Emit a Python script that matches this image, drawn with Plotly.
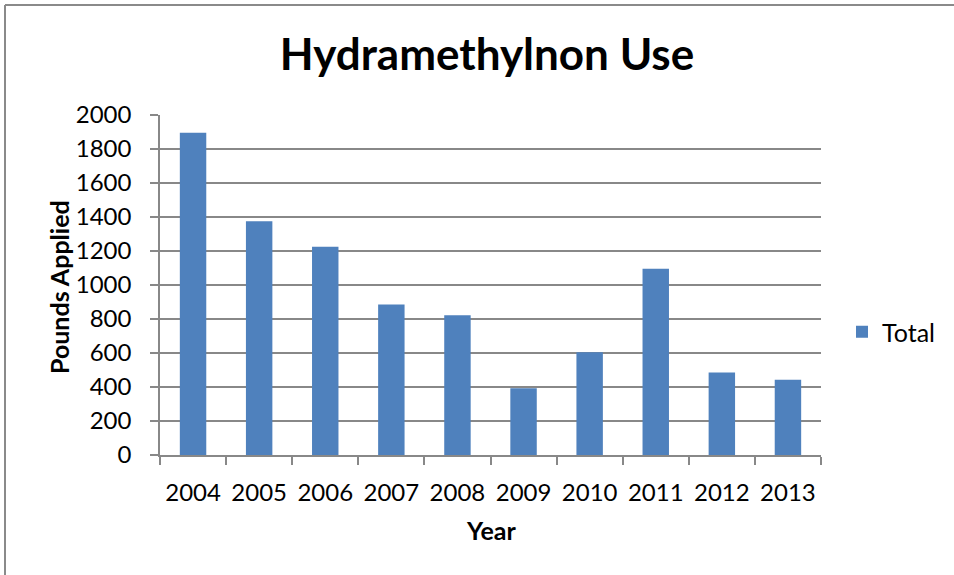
import plotly.graph_objects as go

years = ["2004", "2005", "2006", "2007", "2008", "2009", "2010", "2011", "2012", "2013"]
totals = [1895, 1375, 1225, 885, 822, 392, 605, 1095, 485, 443]
y_ticks = [0, 200, 400, 600, 800, 1000, 1200, 1400, 1600, 1800, 2000]

W, H = 954, 575
L, R, T, B = 160, 821, 115, 455

def px_x(p):
    return (p - L) / (R - L)

def px_y(p):
    return (B - p) / (B - T)

FONT = "Lato"
BAR = "#4F81BD"
GRID = "#888888"
BORDER = "#8a8a8a"

fig = go.Figure()
fig.add_trace(go.Bar(x=years, y=totals, name="Total", marker=dict(color=BAR, line=dict(width=0))))

fig.update_layout(
    width=W, height=H,
    margin=dict(l=L, r=W - R, t=T, b=H - B),
    paper_bgcolor="white", plot_bgcolor="white",
    bargap=0.6,
    font=dict(family=FONT, color="black"),
    title=dict(text="<b>Hydramethylnon Use</b>", x=487 / W, xanchor="center",
               y=1 - 55 / H, yanchor="middle", yref="container",
               font=dict(family=FONT, size=44, color="black")),
    showlegend=True,
    legend=dict(x=px_x(842), xanchor="left", y=px_y(332), yanchor="middle",
                font=dict(family=FONT, size=25, color="black"), bgcolor="rgba(0,0,0,0)"),
    xaxis=dict(type="category", showgrid=False, showline=True, linecolor=GRID, linewidth=1.5,
               ticks="outside", tickson="boundaries", ticklen=8, tickcolor=GRID, tickwidth=1.5,
               tickfont=dict(family=FONT, size=24, color="black"), ticklabelstandoff=15),
    yaxis=dict(range=[0, 2000], tickvals=y_ticks, showgrid=True, gridcolor=GRID, gridwidth=1.5,
               showline=True, linecolor=GRID, linewidth=1.5, zeroline=False,
               ticks="outside", ticklen=8, tickcolor=GRID, tickwidth=1.5,
               tickfont=dict(family=FONT, size=24, color="black"), ticklabelstandoff=14),
    annotations=[
        dict(text="<b>Pounds Applied</b>", xref="paper", yref="paper", x=px_x(59), y=px_y(287),
             xanchor="center", yanchor="middle", textangle=-90, showarrow=False,
             font=dict(family=FONT, size=25, color="black")),
        dict(text="<b>Year</b>", xref="paper", yref="paper", x=px_x(491), y=px_y(530),
             xanchor="center", yanchor="middle", showarrow=False,
             font=dict(family=FONT, size=25, color="black")),
    ],
    shapes=[
        dict(type="line", xref="paper", yref="paper", x0=px_x(5), y0=px_y(5), x1=px_x(1100), y1=px_y(5),
             line=dict(color=BORDER, width=2), layer="below"),
        dict(type="line", xref="paper", yref="paper", x0=px_x(5), y0=px_y(5), x1=px_x(5), y1=px_y(700),
             line=dict(color=BORDER, width=2), layer="below"),
    ],
)

fig.write_html("out.html", config={"displayModeBar": False},
               post_script="document.body.style.margin='0px';document.body.style.overflow='hidden';")
